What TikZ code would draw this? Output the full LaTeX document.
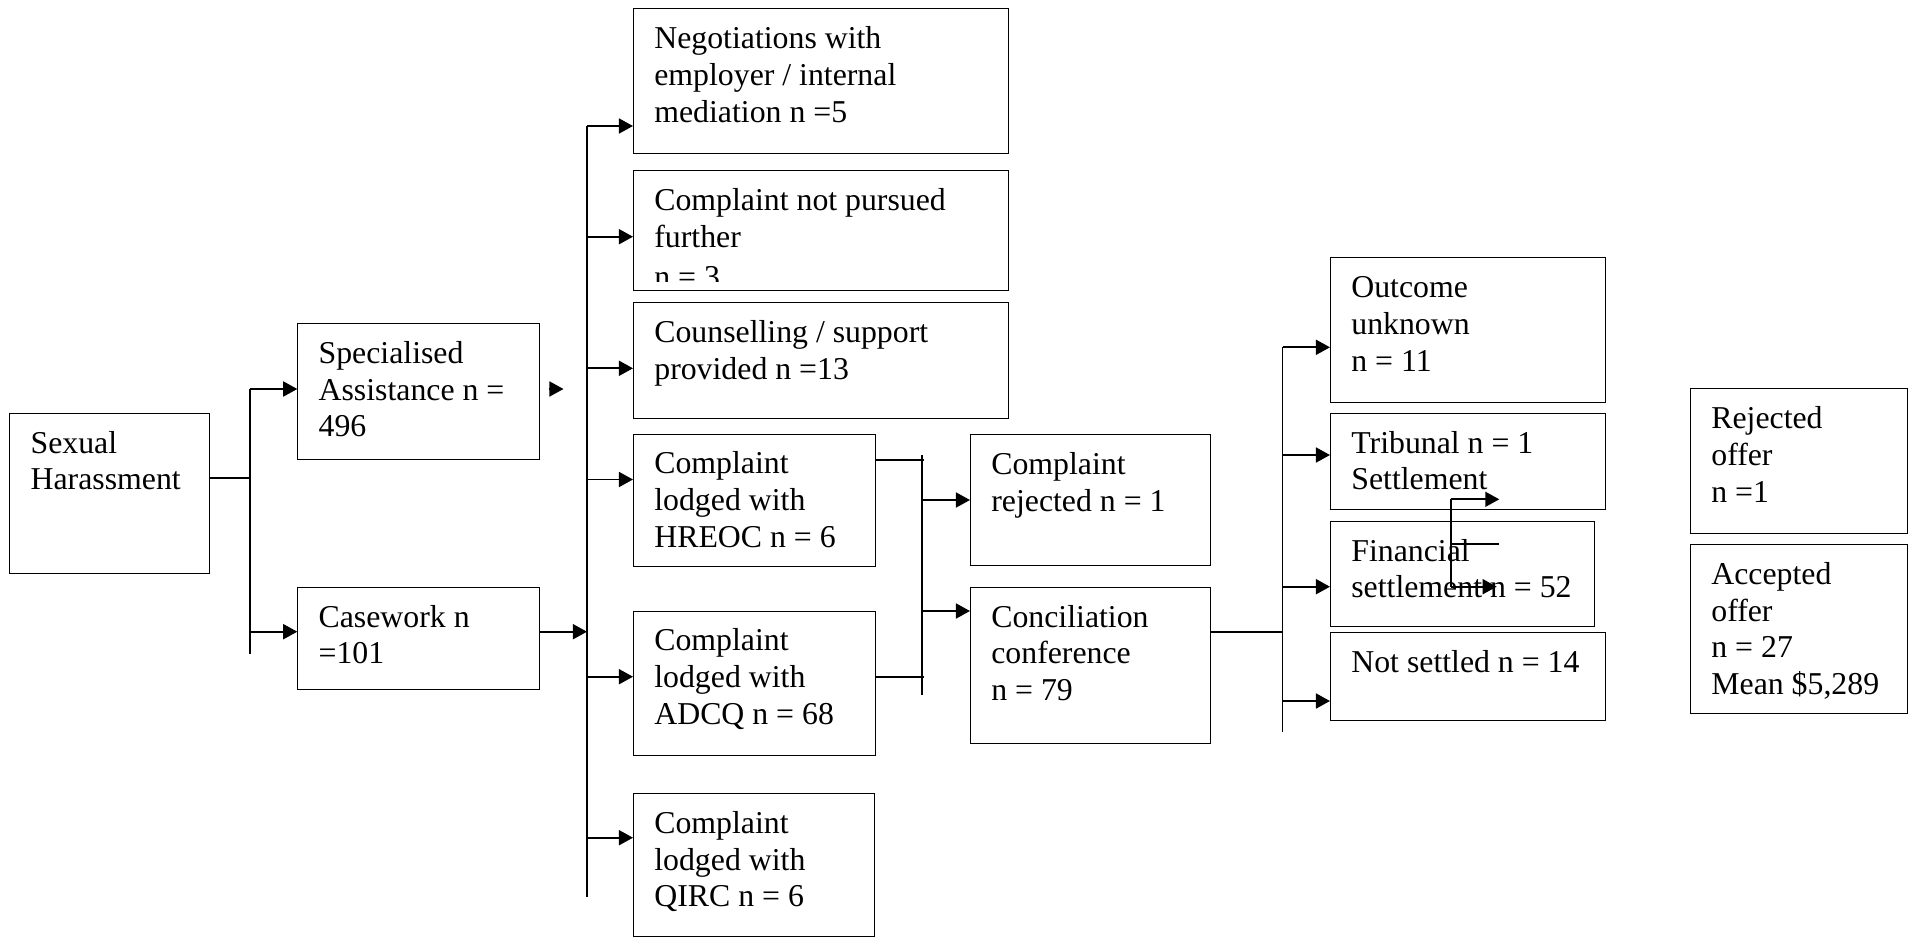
\documentclass[tikz,border=0pt]{standalone}
\usepackage{fontspec}
\setmainfont{Liberation Serif}
\usetikzlibrary{arrows.meta}

\tikzset{
  box/.style 2 args={draw, line width=0.6pt, anchor=north west, inner sep=0pt,
    minimum width=#1*0.02cm, minimum height=#2*0.02cm},
  txt/.style={anchor=north west, align=left, inner xsep=0.42cm, inner ysep=0.286cm,
    font=\fontsize{18.1}{20.9}\selectfont},
  wire/.style={line width=1.1pt},
  arr/.style={line width=1.1pt, -{Triangle[length=8pt,width=8.5pt]}}
}

\begin{document}
\begin{tikzpicture}[x=0.02cm, y=-0.02cm]
	\useasboundingbox (0,0) rectangle (1910,937);
	% boxes
	\node[box={199.7}{160.6}] (sh) at (9.3,412.7) {};
	\node[txt] (sh-t) at (sh.north west) {\strut Sexual\\Harassment};
	\node[box={241.2}{136}] (sa) at (297.3,323) {};
	\node[txt] (sa-t) at (sa.north west) {\strut Specialised\\Assistance n =\\496};
	\node[box={241.2}{102.6}] (cw) at (297.3,586.7) {};
	\node[txt] (cw-t) at (cw.north west) {\strut Casework n\\=101};
	\node[box={375}{144.4}] (neg) at (633,8.3) {};
	\node[txt] (neg-t) at (neg.north west) {\strut Negotiations with\\employer / internal\\mediation n =5};
	\node[box={375}{120}] (nop) at (633,170) {};
	\begin{scope}
		\clip (nop.north west) rectangle ([yshift=0.2cm]nop.south east);
		\node[txt] (nop-t) at (nop.north west) {\strut Complaint not pursued\\further\\[0.07cm]n = 3};
	\end{scope}
	\node[box={375}{115.7}] (cou) at (633,302) {};
	\node[txt] (cou-t) at (cou.north west) {\strut Counselling / support\\provided n =13};
	\node[box={242}{132.2}] (hre) at (633,433.6) {};
	\node[txt] (hre-t) at (hre.north west) {\strut Complaint\\lodged with\\HREOC n = 6};
	\node[box={242}{143.9}] (adc) at (633,610.6) {};
	\node[txt] (adc-t) at (adc.north west) {\strut Complaint\\lodged with\\ADCQ n = 68};
	\node[box={241}{142.5}] (qir) at (633,793) {};
	\node[txt] (qir-t) at (qir.north west) {\strut Complaint\\lodged with\\QIRC n = 6};
	\node[box={240}{131}] (cr) at (970,434) {};
	\node[txt] (cr-t) at (cr.north west) {\strut Complaint\\rejected n = 1};
	\node[box={240}{156.6}] (con) at (970,586.7) {};
	\node[txt] (con-t) at (con.north west) {\strut Conciliation\\conference\\n = 79};
	\node[box={275}{144.4}] (out) at (1330,257.3) {};
	\node[txt] (out-t) at (out.north west) {\strut Outcome\\unknown\\n = 11};
	\node[box={275}{96.3}] (tri) at (1330,412.7) {};
	\node[txt] (tri-t) at (tri.north west) {\strut Tribunal n = 1\\Settlement};
	\node[box={264.3}{105}] (fin) at (1330,520.7) {};
	\node[txt] (fin-t) at (fin.north west) {\strut Financial\\settlement n = 52};
	\node[box={275}{88.3}] (nos) at (1330,631.7) {};
	\node[txt] (nos-t) at (nos.north west) {\strut Not settled n = 14};
	\node[box={217.3}{144.4}] (rej) at (1690,388.3) {};
	\node[txt] (rej-t) at (rej.north west) {\strut Rejected\\offer\\n =1};
	\node[box={217.3}{169.3}] (acc) at (1690,544) {};
	\node[txt] (acc-t) at (acc.north west) {\strut Accepted\\offer\\n = 27\\Mean \$5,289};

	% first split
	\coordinate (a0) at (250,478.3);
	\coordinate (a1) at (250,389);
	\coordinate (a2) at (250,631.7);
	\coordinate (a3) at (250,654);
	\draw[wire] (sh.east |- a0) -- (a0);
	\draw[wire] (a1) -- (a3);
	\draw[arr] (a1) -- (a1 -| sa.west);
	\draw[arr] (a2) -- (a2 -| cw.west);
	\coordinate (stray) at (563.5,389);
	\draw[arr] ([xshift=-0.3cm]stray) -- (stray);

	% main trunk
	\coordinate (b0) at (587,126);
	\coordinate (b1) at (587,897);
	\coordinate (bin) at (587,631.7);
	\draw[wire] (b0) -- (b1);
	\draw[arr] (cw.east |- bin) -- (bin);
	\foreach \n/\y in {neg/126,nop/236.7,cou/368.3,hre/479.5,adc/676.7,qir/837.7}{
		\coordinate (b-\n) at (587,\y);
		\draw[arr] (b-\n) -- (b-\n -| \n.west);
	}

	% complaints joined
	\coordinate (c0) at (922.3,455);
	\coordinate (c1) at (922.3,695);
	\coordinate (c-hre) at (924,460);
	\coordinate (c-adc) at (924,676.7);
	\draw[wire] (hre.east |- c-hre) -- (c-hre);
	\draw[wire] (adc.east |- c-adc) -- (c-adc);
	\draw[wire] (c0) -- (c1);
	\coordinate (c-cr) at (922.3,500);
	\coordinate (c-con) at (922.3,611);
	\draw[arr] (c-cr) -- (c-cr -| cr.west);
	\draw[arr] (c-con) -- (c-con -| con.west);

	% conciliation outcomes
	\coordinate (d0) at (1282.5,347);
	\coordinate (d1) at (1282.5,731.7);
	\coordinate (d-in) at (1282.5,631.7);
	\draw[wire] (con.east |- d-in) -- (d-in);
	\draw[wire] (d0) -- (d1);
	\foreach \n/\y in {out/347.3,tri/455,fin/586.7,nos/701}{
		\coordinate (d-\n) at (1282.5,\y);
		\draw[arr] (d-\n) -- (d-\n -| \n.west);
	}

	% loose connector over the settlement boxes
	\coordinate (e0) at (1450.7,499.3);
	\coordinate (e1) at (1450.7,544.3);
	\coordinate (e2) at (1450.7,586.7);
	\draw[wire] (e0) -- (e2);
	\draw[arr] (e0) -- ++(48.6,0);
	\draw[wire] (e1) -- ++(48.6,0);
	\draw[arr] (e2) -- ++(46,0);
\end{tikzpicture}
\end{document}
